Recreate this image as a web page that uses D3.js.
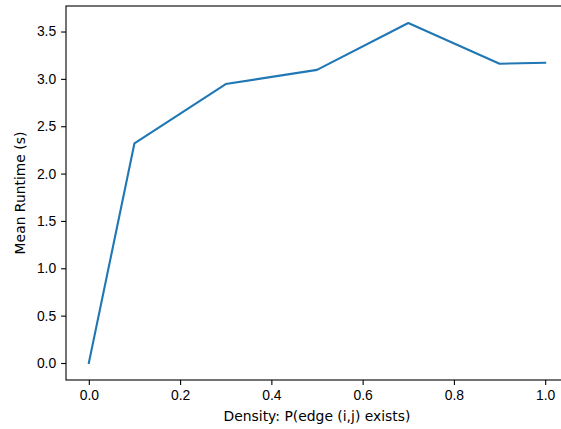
<!DOCTYPE html>
<html>
<head>
<meta charset="utf-8">
<script src="https://cdn.jsdelivr.net/npm/d3@7"></script>
<style>
  body { margin: 0; background: #fff; }
  svg { display: block; font-family: "DejaVu Sans", sans-serif; }
  .tick text { font-size: 13.9px; fill: #000; }
  .tick line { stroke: #000; stroke-width: 1.1; }
  .domain { display: none; }
</style>
</head>
<body>
<div id="chart"></div>
<script>
// data
const densities = [0, 0.1, 0.3, 0.5, 0.7, 0.9, 1.0];
const runtimes = [0, 2.32, 2.945, 3.095, 3.59, 3.16, 3.17];
const xTicks = [0, 0.2, 0.4, 0.6, 0.8, 1.0];
const yTicks = [0, 0.5, 1.0, 1.5, 2.0, 2.5, 3.0, 3.5];

const W = 561, H = 429;
const plot = { left: 66, right: 568, top: 6, bottom: 380 };

const svg = d3.select("#chart").append("svg")
  .attr("width", W)
  .attr("height", H);

const x = d3.scaleLinear().domain([-0.05, 1.05]).range([plot.left, plot.right]);
const y = d3.scaleLinear().domain([-0.1795, 3.7695]).range([plot.bottom, plot.top]);

// axes
svg.append("g")
  .attr("transform", `translate(0, ${plot.bottom})`)
  .call(d3.axisBottom(x).tickValues(xTicks).tickFormat(d3.format(".1f"))
    .tickSize(4.9).tickPadding(4.9));

svg.append("g")
  .attr("transform", `translate(${plot.left}, 0)`)
  .call(d3.axisLeft(y).tickValues(yTicks).tickFormat(d3.format(".1f"))
    .tickSize(4.9).tickPadding(4.9));

// spines
svg.append("rect")
  .attr("x", plot.left)
  .attr("y", plot.top)
  .attr("width", plot.right - plot.left)
  .attr("height", plot.bottom - plot.top)
  .attr("fill", "none")
  .attr("stroke", "#000")
  .attr("stroke-width", 1.1);

// line
const line = d3.line()
  .x((d, i) => x(densities[i]))
  .y((d) => y(d));

svg.append("path")
  .datum(runtimes)
  .attr("d", line)
  .attr("fill", "none")
  .attr("stroke", "#1f77b4")
  .attr("stroke-width", 2.1)
  .attr("stroke-linejoin", "round")
  .attr("stroke-linecap", "square");

// labels
svg.append("text")
  .attr("x", x(0.5))
  .attr("y", 421)
  .attr("text-anchor", "middle")
  .style("font-size", "13.9px")
  .text("Density: P(edge (i,j) exists)");

svg.append("text")
  .attr("transform", `translate(25, ${(plot.top + plot.bottom) / 2}) rotate(-90)`)
  .attr("text-anchor", "middle")
  .style("font-size", "13.9px")
  .text("Mean Runtime (s)");
</script>
</body>
</html>
